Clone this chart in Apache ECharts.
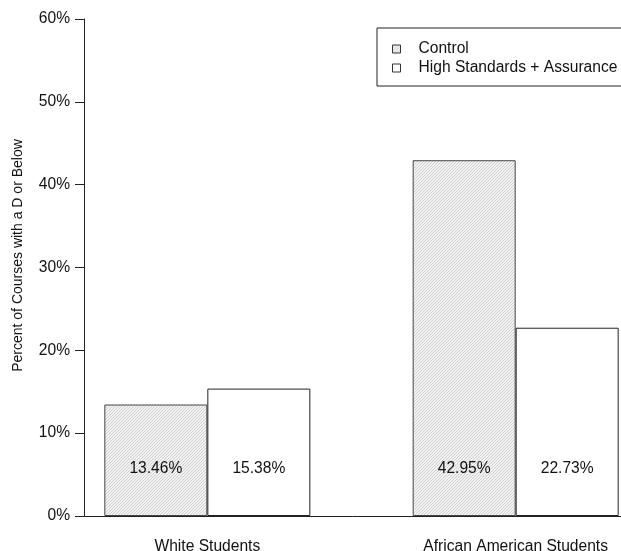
<!DOCTYPE html>
<html>
<head>
<meta charset="utf-8">
<script src="https://cdn.jsdelivr.net/npm/echarts@6/dist/echarts.min.js"></script>
<style>
html,body{margin:0;padding:0;background:#fff;}
#chart{width:621px;height:551px;}
</style>
</head>
<body>
<div id="chart"></div>
<script>
// ---- data ----
const categories = ['White Students', 'African American Students'];
const seriesNames = ['Control', 'High Standards + Assurance'];
const controlValues = [13.46, 42.95];
const highStdValues = [15.38, 22.73];
const yTicks = [0, 10, 20, 30, 40, 50, 60];

// group positions follow R barplot layout (group centres at 2, 5)
const groupPos = categories.map((c, i) => 2 + 3 * i);

// hatch pattern
function makeHatch() {
  const s = 3;
  const c = document.createElement('canvas');
  c.width = s; c.height = s;
  const g = c.getContext('2d');
  g.fillStyle = '#f3f3f3';
  g.fillRect(0, 0, s, s);
  g.strokeStyle = '#cbcbcb';
  g.lineWidth = 0.9;
  g.beginPath();
  g.moveTo(-1, s + 1); g.lineTo(s + 1, -1);
  g.moveTo(-1, 1); g.lineTo(1, -1);
  g.moveTo(s - 1, s + 1); g.lineTo(s + 1, s - 1);
  g.stroke();
  return c;
}
const hatch = { image: makeHatch(), repeat: 'repeat' };

const font = 'Liberation Sans, Arial, Helvetica, sans-serif';
const txt = '#111';

const chart = echarts.init(document.getElementById('chart'), null, { renderer: 'canvas' });

const labelOpt = {
  show: true,
  position: 'insideBottom',
  distance: 39,
  fontFamily: font,
  fontSize: 15.6,
  color: txt,
  formatter: p => p.value[1].toFixed(2) + '%'
};

chart.setOption({
  animation: false,
  backgroundColor: '#fff',
  grid: { left: 84, right: -18, top: 19, bottom: 35, containLabel: false, outerBoundsMode: 'none' },
  legend: {
    orient: 'vertical',
    left: 377,
    top: 28,
    padding: [13, 40, 10, 15],
    itemGap: 3,
    itemWidth: 8,
    itemHeight: 8,
    backgroundColor: '#fff',
    borderColor: '#222',
    borderWidth: 1,
    borderRadius: 0,
    icon: 'rect',
    selectedMode: false,
    textStyle: { fontFamily: font, fontSize: 15.6, color: txt, padding: [0, 0, 0, 13] },
    data: [
      { name: seriesNames[0], itemStyle: { color: hatch, borderColor: '#333', borderWidth: 1 } },
      { name: seriesNames[1], itemStyle: { color: '#fff', borderColor: '#333', borderWidth: 1 } }
    ]
  },
  xAxis: {
    type: 'value',
    min: 0.8,
    max: 6.2,
    splitLine: { show: false },
    axisLine: { show: true, lineStyle: { color: '#222', width: 1 } },
    axisTick: { show: false },
    axisLabel: {
      show: true,
      customValues: groupPos,
      margin: 23,
      fontFamily: font,
      fontSize: 15.6,
      color: txt,
      formatter: v => {
        const i = groupPos.indexOf(v);
        return i >= 0 ? categories[i] : '';
      }
    }
  },
  yAxis: {
    type: 'value',
    min: yTicks[0],
    max: yTicks[yTicks.length - 1],
    interval: 10,
    name: 'Percent of Courses with a D or Below',
    nameLocation: 'middle',
    nameGap: 59,
    nameTextStyle: { fontFamily: font, fontSize: 14, color: txt, padding: [0, 0, 0, 24] },
    splitLine: { show: false },
    axisLine: { show: true, lineStyle: { color: '#222', width: 1 } },
    axisTick: { show: true, length: 9, lineStyle: { color: '#222' } },
    axisLabel: {
      margin: 14,
      fontFamily: font,
      fontSize: 15.6,
      color: txt,
      formatter: '{value}%'
    }
  },
  series: [
    {
      name: seriesNames[0],
      type: 'bar',
      barWidth: 103,
      barGap: '0%',
      data: controlValues.map((v, i) => [groupPos[i], v]),
      itemStyle: { color: hatch, borderColor: '#444', borderWidth: 1 },
      label: labelOpt
    },
    {
      name: seriesNames[1],
      type: 'bar',
      barWidth: 103,
      barGap: '0%',
      data: highStdValues.map((v, i) => [groupPos[i], v]),
      itemStyle: { color: '#fff', borderColor: '#222', borderWidth: 1 },
      label: labelOpt
    }
  ]
});
</script>
</body>
</html>
